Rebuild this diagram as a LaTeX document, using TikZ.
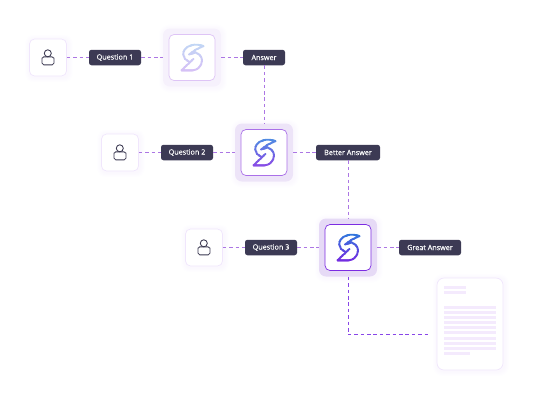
\documentclass[tikz,border=0pt]{standalone}
\usepackage{fontspec}
\setmainfont{Open Sans}
\newfontfamily\pillfont[FakeBold=0.25]{Open Sans}
\usetikzlibrary{calc, backgrounds}
\definecolor{pilldark}{RGB}{60,58,84}
\definecolor{iconink}{RGB}{58,56,80}
\definecolor{dashpurple}{RGB}{172,118,228}
\definecolor{dashdeep}{RGB}{136,70,232}
\definecolor{frameline}{RGB}{240,230,252}
\definecolor{glowviolet}{RGB}{180,140,240}
\definecolor{padfaint}{RGB}{246,241,252}
\definecolor{padmid}{RGB}{237,228,248}
\definecolor{padfull}{RGB}{230,218,246}
\definecolor{ringfaint}{RGB}{222,196,246}
\definecolor{ringmid}{RGB}{170,112,232}
\definecolor{ringfull}{RGB}{124,44,226}
\definecolor{boltblue}{RGB}{44,124,220}
\definecolor{boltviolet}{RGB}{120,40,226}
\definecolor{sheetline}{RGB}{244,234,253}

\newcommand{\softglow}[2]{
  \foreach \g in {1,...,5}{
    \fill[glowviolet, opacity=0.012, rounded corners=#2+\g*0.7pt]
      ($(#1.south west)+(-\g pt+1pt,-\g pt-1pt)$) rectangle ($(#1.north east)+(\g pt+1pt,\g pt-1pt)$);
  }
}
\def\boltpath{(11.5,-11.4) .. controls (7,-13) and (3,-13.2) .. (0,-12.4)
  .. controls (-6,-11) and (-9,-7) .. (-8.8,-3)
  .. controls (-8.6,0) and (-6.4,2.6) .. (-3,4)
  (11.5,-11.4) -- (4,-8) -- (-3,-3) -- (3.6,-5)
  .. controls (8,-3.4) and (10.2,0) .. (10,3.4)
  .. controls (9.6,9) and (5,12.8) .. (0.6,12.8) -- (-10.5,12.8) -- (1.5,1.4)}

\tikzset{
  userbox/.style={draw=frameline, fill=white, line width=0.7pt, rounded corners=5pt, minimum size=37pt, inner sep=0},
  pill/.style={fill=pilldark, text=white, rounded corners=2.5pt, minimum height=15.5pt, inner sep=0,
    font=\pillfont\fontsize{7.2}{8}\selectfont},
  padbox/.style={rounded corners=7pt, minimum size=58pt, inner sep=0},
  ringbox/.style={fill=white, line width=0.7pt, rounded corners=5pt, minimum size=46pt, inner sep=0},
  linkline/.style={dashpurple, line width=1pt, dash pattern=on 3.6pt off 2.8pt},
  deepline/.style={dashdeep, line width=1pt, dash pattern=on 3.6pt off 2.8pt},
  usericon/.pic={
    \draw[iconink, line width=0.85pt] (-0.2,-4.2) circle (3.5);
    \draw[iconink, line width=0.85pt, rounded corners=1.8pt] (-6,7.4) -- (-6,2.6)
      .. controls (-6,0.4) and (-4,-0.6) .. (-2.6,-0.6) -- (2.2,-0.6)
      .. controls (4,-0.6) and (6,0.4) .. (6,2.6) -- (6,7.4) -- cycle;
  },
  pics/boltlogo/.style={code={
    \foreach \k in {0,...,12}{
      \pgfmathsetmacro{\mixval}{100-\k*100/12}
      \begin{scope}
        \clip (-15,-16+\k*2.5) rectangle (15,-16+\k*2.5+2.7);
        \draw[boltblue!\mixval!boltviolet!#1!white, line width=1.9pt, line join=round, line cap=round] \boltpath;
      \end{scope}
    }
  }}
}

\begin{document}
\begin{tikzpicture}[x=1pt, y=-1pt]
  \useasboundingbox (0,0) rectangle (534,400);
  % Users
  \node[userbox] (userA) at (48,57.5) {};
  \node[userbox] (userB) at (120,152.5) {};
  \node[userbox] (userC) at (204,247.5) {};
  \foreach \n in {userA,userB,userC}{
    \pic at (\n) {usericon};
  }
  % Logo tiles
  \node[padbox, fill=padfaint] (logoA) at (192,57.5) {};
  \node[padbox, fill=padmid] (logoB) at (264,152.5) {};
  \node[padbox, fill=padfull] (logoC) at (348,247.5) {};
  \node[ringbox, draw=ringfaint] (ringA) at (logoA) {};
  \node[ringbox, draw=ringmid] (ringB) at (logoB) {};
  \node[ringbox, draw=ringfull] (ringC) at (logoC) {};
  \pic at (ringA) {boltlogo=30};
  \pic at (ringB) {boltlogo=85};
  \pic at (ringC) {boltlogo=100};
  % Labels
  \node[pill, minimum width=52pt] (askA) at (115,57.5) {Question 1};
  \node[pill, minimum width=42pt] (replyA) at (264,57.5) {Answer};
  \node[pill, minimum width=52pt] (askB) at (187,152.5) {Question 2};
  \node[pill, minimum width=64pt] (replyB) at (348,152.5) {Better Answer};
  \node[pill, minimum width=52pt] (askC) at (271,247.5) {Question 3};
  \node[pill, minimum width=62pt] (replyC) at (430,247.5) {Great Answer};
  % Document
  \node[userbox, rounded corners=7pt, minimum width=66pt, minimum height=92pt] (sheet) at (470,324) {};
  \foreach \y in {286,291.4}{
    \fill[sheetline] (444,\y) rectangle (466,\y+3);
  }
  \foreach \y in {305.7,310.8,316,321.1,326.2,331.4,336.6,341.8,346.9}{
    \fill[sheetline] (444,\y) rectangle (496,\y+3);
  }
  \fill[sheetline] (444,352.1) rectangle (470,355.1);
  \coordinate (sheetin) at (428,334.5);
  % Connectors
  \draw[linkline] (userA) -- (askA);
  \draw[linkline] (askA) -- (logoA);
  \draw[linkline] (logoA) -- (replyA);
  \draw[linkline] (replyA) -- (logoB);
  \draw[linkline] (userB) -- (askB);
  \draw[linkline] (askB) -- (logoB);
  \draw[linkline] (logoB) -- (replyB);
  \draw[linkline] (replyB) -- (logoC);
  \draw[linkline] (userC) -- (askC);
  \draw[linkline] (askC) -- (logoC);
  \draw[linkline] (logoC) -- (replyC);
  \draw[deepline] (logoC) |- (sheetin);
  % Soft shadows
  \begin{scope}[on background layer]
    \softglow{userA}{5pt}
    \softglow{userB}{5pt}
    \softglow{userC}{5pt}
    \softglow{logoA}{7pt}
    \softglow{logoB}{7pt}
    \softglow{logoC}{7pt}
    \softglow{sheet}{7pt}
  \end{scope}
\end{tikzpicture}
\end{document}
